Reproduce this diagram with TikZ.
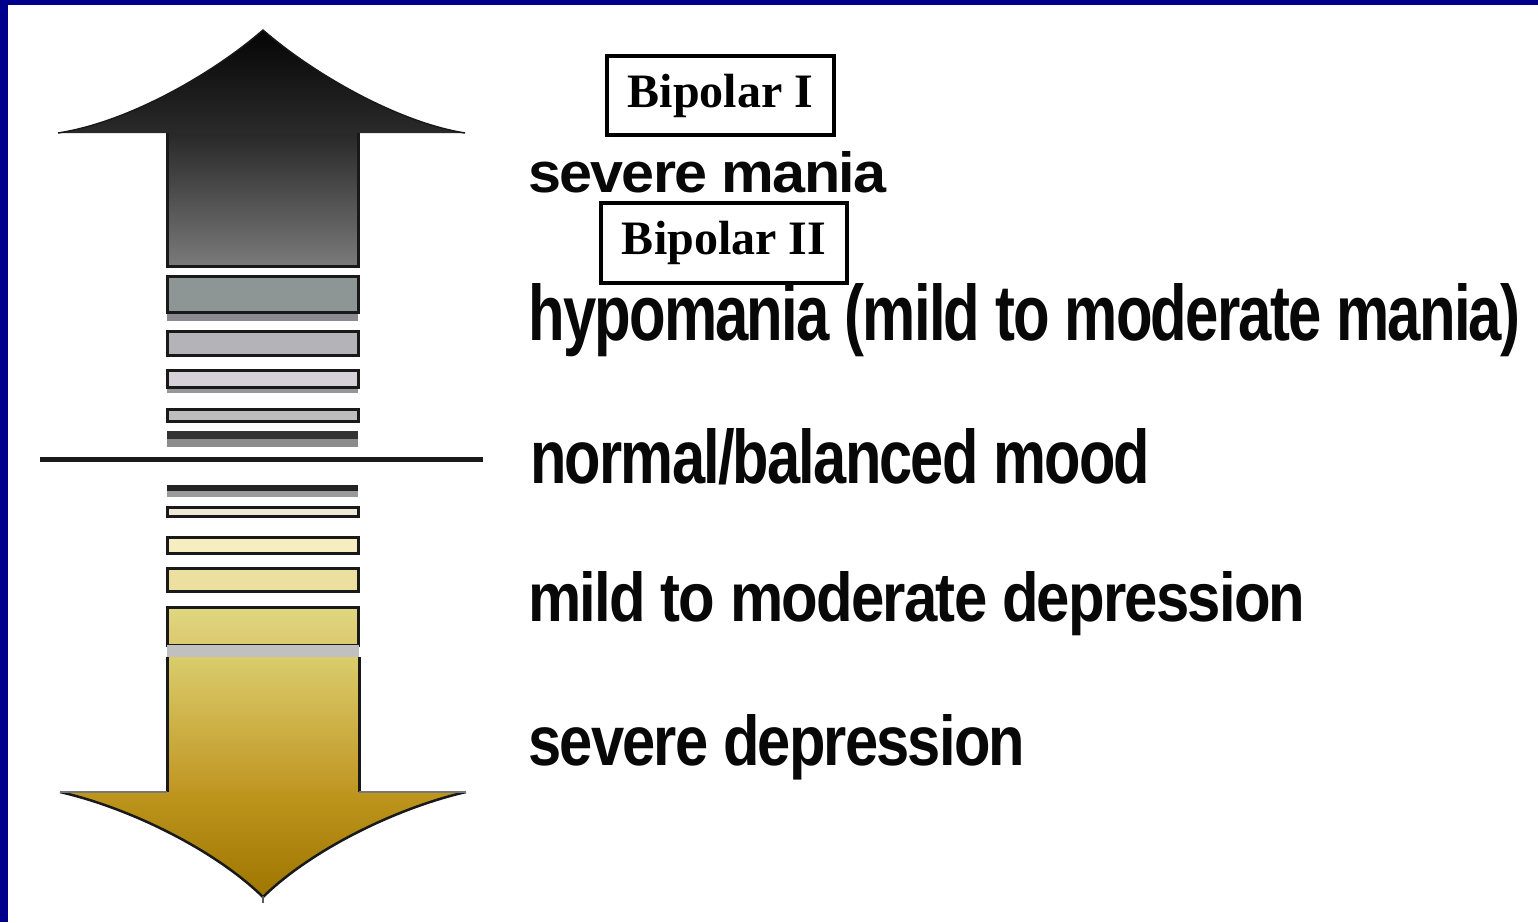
\documentclass[tikz,border=0pt]{standalone}
\usepackage{fontspec}
\usepackage{graphicx}
\setmainfont{Liberation Serif}
\newfontfamily\lsans[LetterSpace=-3]{Liberation Sans}
\definecolor{navy}{RGB}{0,0,140}
\definecolor{edge}{RGB}{25,25,25}
\definecolor{txt}{RGB}{8,8,8}
\definecolor{upA}{RGB}{40,40,40}
\definecolor{upB}{RGB}{122,122,122}
\definecolor{upC}{RGB}{5,5,5}
\definecolor{upD}{RGB}{42,42,42}
\definecolor{sh1}{RGB}{138,139,145}
\definecolor{bar1}{RGB}{142,149,149}
\definecolor{bar2}{RGB}{180,180,184}
\definecolor{sh3}{RGB}{150,152,152}
\definecolor{bar3}{RGB}{214,208,216}
\definecolor{bar4}{RGB}{190,190,190}
\definecolor{sh5}{RGB}{140,140,140}
\definecolor{dk5}{RGB}{50,50,50}
\definecolor{midline}{RGB}{26,26,26}
\definecolor{sh6}{RGB}{155,155,155}
\definecolor{dk6}{RGB}{35,35,35}
\definecolor{bar7}{RGB}{240,232,214}
\definecolor{bar8}{RGB}{246,238,192}
\definecolor{bar9}{RGB}{236,224,160}
\definecolor{barXa}{RGB}{222,216,130}
\definecolor{barXb}{RGB}{220,200,110}
\definecolor{gapgray}{RGB}{192,192,192}
\definecolor{dnA}{RGB}{218,204,108}
\definecolor{dnB}{RGB}{192,150,34}
\definecolor{dnC}{RGB}{190,150,30}
\definecolor{dnD}{RGB}{158,118,0}
\definecolor{stem}{RGB}{90,90,90}
\definecolor{wingtop}{RGB}{120,120,120}
\tikzset{
  barbox/.style={draw=edge, line width=3pt},
  lbl/.style={inner sep=0pt, anchor=base west, text=txt, font=\lsans\bfseries},
  bip/.style={draw=black, line width=4pt, inner sep=0pt, font=\fontsize{48}{56}\selectfont\bfseries}
}
\begin{document}
\begin{tikzpicture}[x=1pt,y=-1pt]
\useasboundingbox (0,0) rectangle (1538,922);
\fill[white] (0,0) rectangle (1538,922);
\fill[navy] (0,0) rectangle (1538,5);
\fill[navy] (0,0) rectangle (8,922);

% ---- up arrow
\shade[top color=upA, bottom color=upB] (167,133) rectangle (358,266);
\shade[top color=upC, bottom color=upD]
  (58,133) .. controls (130,122) and (215,72) .. (263,30) .. controls (311,72) and (396,122) .. (465,133) -- cycle;
\draw[edge, line width=1.5pt, line join=round]
  (58,133) .. controls (130,122) and (215,72) .. (263,30) .. controls (311,72) and (396,122) .. (465,133);
\draw[edge, line width=3pt] (167,133) -- (167,266) -- (358,266) -- (358,133);

% ---- upper bars
\fill[sh1] (167,313) rectangle (358,321);
\draw[barbox, fill=bar1] (167,276) rectangle (358,312);
\draw[barbox, fill=bar2] (167,331) rectangle (358,355);
\fill[sh3] (167,388) rectangle (358,393);
\draw[barbox, fill=bar3] (167,370) rectangle (358,387);
\draw[barbox, fill=bar4] (167,409) rectangle (358,421);
\fill[sh5] (167,439) rectangle (358,447);
\fill[dk5] (167,431) rectangle (358,439);

% ---- balance line
\draw[line width=5pt, midline] (40,459) -- (483,459);

% ---- lower bars
\fill[sh6] (167,491) rectangle (358,497);
\fill[dk6] (167,485) rectangle (358,491);
\draw[barbox, fill=bar7] (167,507) rectangle (358,516);
\draw[barbox, fill=bar8] (167,537) rectangle (358,553);
\draw[barbox, fill=bar9] (167,568) rectangle (358,591);
\shade[top color=barXa, bottom color=barXb] (167,607) rectangle (358,645);
\draw[barbox] (167,607) rectangle (358,645);
\fill[gapgray] (167,645) rectangle (359,657);

% ---- down arrow
\shade[top color=dnA, bottom color=dnB] (167,657) rectangle (359,792);
\shade[top color=dnC, bottom color=dnD]
  (60,792) .. controls (130,808) and (215,850) .. (263,897) .. controls (311,850) and (396,808) .. (466,792) -- cycle;
\draw[edge, line width=2.5pt, line join=round]
  (60,792) .. controls (130,808) and (215,850) .. (263,897)
  .. controls (311,850) and (396,808) .. (466,792);
\draw[edge, line width=3pt] (167,657) -- (167,792);
\draw[edge, line width=3pt] (359,657) -- (359,792);
\draw[wingtop, line width=2.5pt] (60,792) -- (167,792);
\draw[wingtop, line width=2.5pt] (359,792) -- (466,792);
\draw[stem, line width=2pt] (263,896) -- (263,903);

% ---- labels
\node[bip, minimum width=227pt, minimum height=79pt] (b1) at (720.5,95.5) {Bipolar I};
\node[bip, minimum width=246pt, minimum height=80pt] (b2) at (724,243) {Bipolar II};
\node[lbl] (sm) at (528,192) {\resizebox{358pt}{41pt}{severe mania}};
\node[lbl] (hm) at (528,340) {\resizebox{992pt}{57pt}{hypomania (mild to moderate mania)}};
\node[lbl] (nb) at (530,483) {\resizebox{620pt}{55pt}{normal/balanced mood}};
\node[lbl] (md) at (528,621) {\resizebox{777pt}{50pt}{mild to moderate depression}};
\node[lbl] (sd) at (528,765) {\resizebox{497pt}{51pt}{severe depression}};
\end{tikzpicture}
\end{document}
